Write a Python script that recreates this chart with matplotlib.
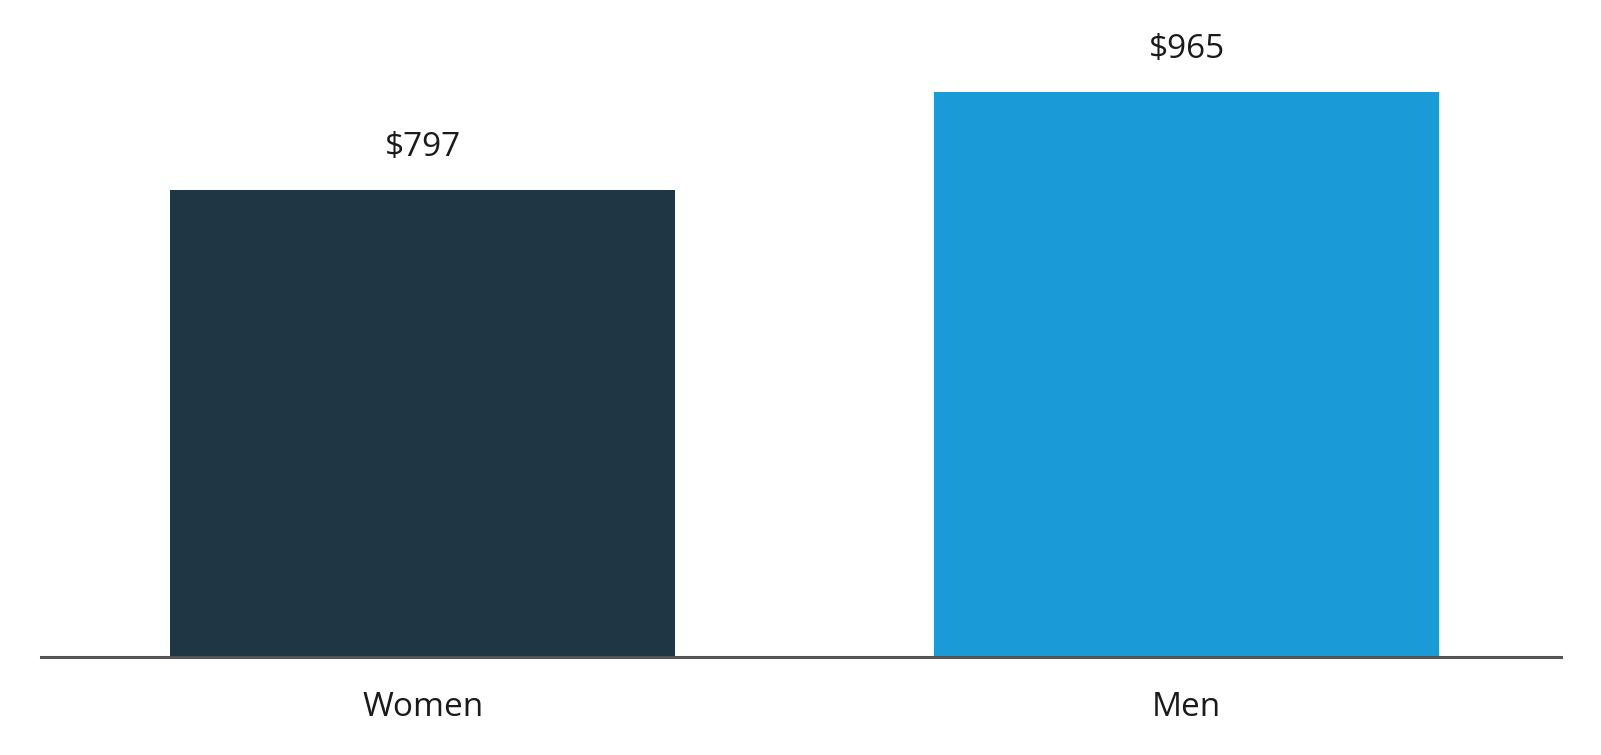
# average weekly earnings, women vs men - simple two bar chart

import matplotlib
matplotlib.use("Agg")
import matplotlib.pyplot as plt

categories = ["Women", "Men"]
earnings = [797, 965]
bar_colors = ["#1f3644", "#1b9ad8"]

plt.rcParams['font.family'] = ['Open Sans', 'DejaVu Sans']

fig = plt.figure(figsize=(16.01, 7.55), dpi=100)
ax = fig.add_axes([0.0254, 0.1295, 0.9496, 0.8705])

x = range(len(categories))
bars = ax.bar(x, earnings, width=0.661, color=bar_colors)

# value labels above bars
for rect, val in zip(bars, earnings):
    ax.annotate(f"${val}", (rect.get_x() + rect.get_width() / 2, rect.get_height()),
                xytext=(0, 19), textcoords="offset points",
                ha="center", va="bottom", fontsize=24, color="#1a1a1a")

ax.set_xlim(-0.5, 1.49)
ax.set_ylim(0, 1122)
ax.set_xticks(list(x))
ax.set_xticklabels(categories, fontsize=24, color="#1a1a1a")
ax.tick_params(axis="x", length=0, pad=24)
ax.set_yticks([])

for side in ["top", "right", "left"]:
    ax.spines[side].set_visible(False)
ax.spines["bottom"].set_color("#555555")
ax.spines["bottom"].set_linewidth(2.2)

fig.savefig("out.png", dpi=100)
